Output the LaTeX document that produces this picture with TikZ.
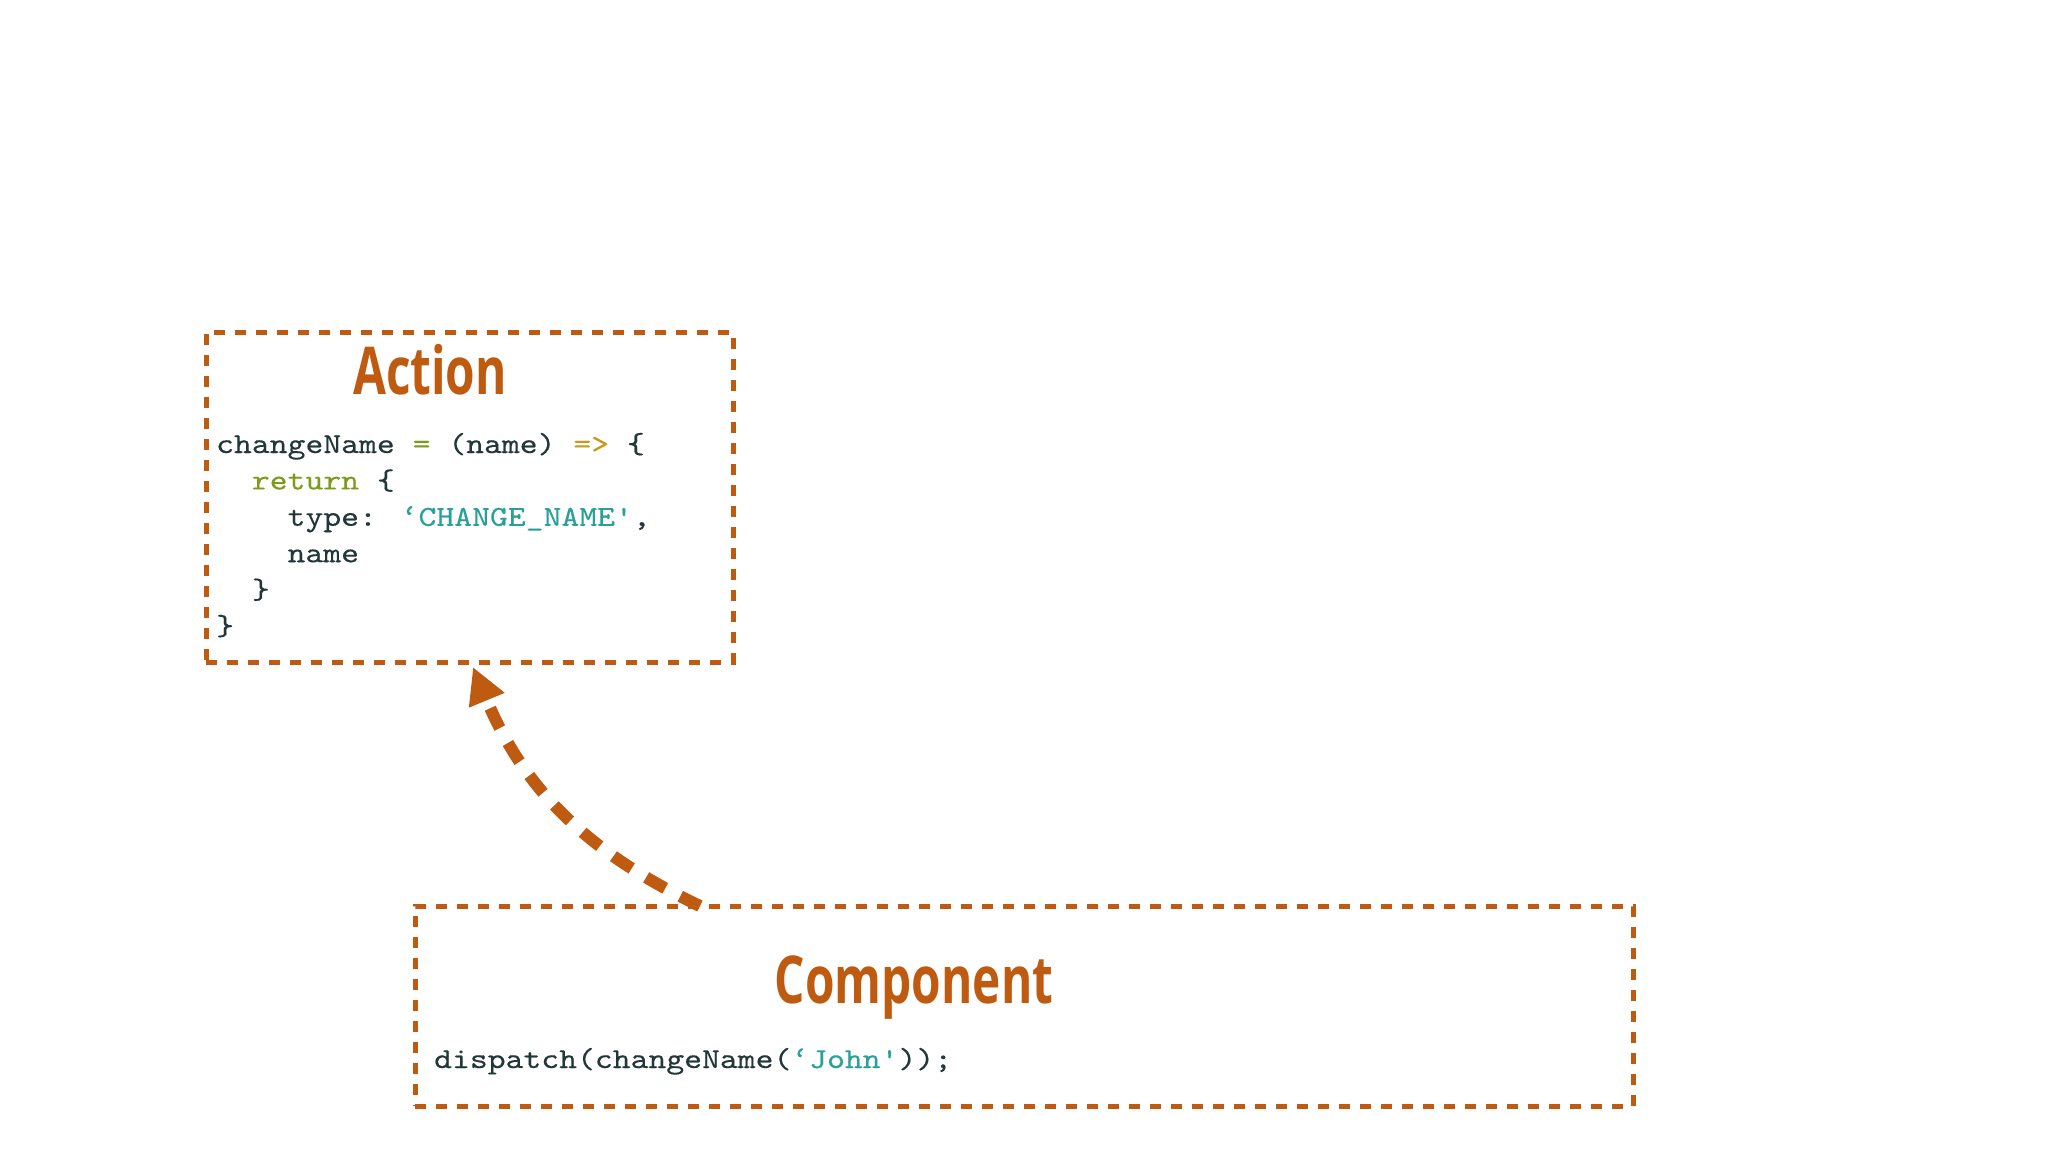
\documentclass[tikz,border=0pt]{standalone}
\usepackage{fontspec}
\usetikzlibrary{arrows.meta}
\newfontfamily\headfont{Open Sans}[FakeStretch=0.724]
\newfontfamily\codefont{lmmono10-regular.otf}[FakeStretch=1.173,FakeBold=0.3,Ligatures=TeXOff]

\definecolor{rustorange}{RGB}{191,91,16}
\definecolor{codeink}{RGB}{33,55,56}
\definecolor{codegreen}{RGB}{122,156,24}
\definecolor{codeyellow}{RGB}{196,154,26}
\definecolor{codeteal}{RGB}{42,161,152}

\tikzset{
  dashbox/.style={draw=rustorange, line width=5, dash pattern=on 11 off 10, inner sep=0, outer sep=0},
  boxtitle/.style={anchor=base, inner sep=0, text=rustorange, font=\headfont\bfseries\fontsize{66}{70}\selectfont},
  codeline/.style={anchor=base west, inner sep=0, text=codeink, font=\codefont\fontsize{29}{36.4}\selectfont},
  flowarrow/.style={draw=rustorange, line width=12, dash pattern=on 22 off 17, -{Triangle[length=36,width=36,fill=rustorange]}}
}

\begin{document}
\begin{tikzpicture}[x=1pt,y=1pt,yscale=-1]
\useasboundingbox (0,0) rectangle (2048,1152);

%Shape: Action box
\node (actbox) [dashbox, minimum width=527, minimum height=330] at (469.5,497) {};
%Shape: Component box
\node (compbox) [dashbox, minimum width=1218, minimum height=200] at (1024,1006) {};

% Text Node
\node (acttitle) [boxtitle] at (430,394) {Action};
% Text Node
\node (comptitle) [boxtitle] at (914,1003) {Component};

% Code lines
\node (code1) [codeline] at (216,453) {changeName \textcolor{codegreen}{=} (name) \textcolor{codeyellow}{=>} \{};
\node (code2) [codeline] at (251.7,489.4) {\textcolor{codegreen}{return} \{};
\node (code3) [codeline] at (287.4,525.8) {type: \textcolor{codeteal}{‘CHANGE\_NAME'},};
\node (code4) [codeline] at (287.4,562.2) {name};
\node (code5) [codeline] at (251.7,598.6) {\}};
\node (code6) [codeline] at (216,635) {\}};
% Text Node
\node (dispatch) [codeline] at (434,1068) {dispatch(changeName(\textcolor{codeteal}{‘John'}));};

%Curve: dispatch goes to action
\coordinate (src) at (700,906);
\coordinate (dst) at (473,667);
\draw [flowarrow] (src) to[bend right=21] (dst);

\end{tikzpicture}
\end{document}
